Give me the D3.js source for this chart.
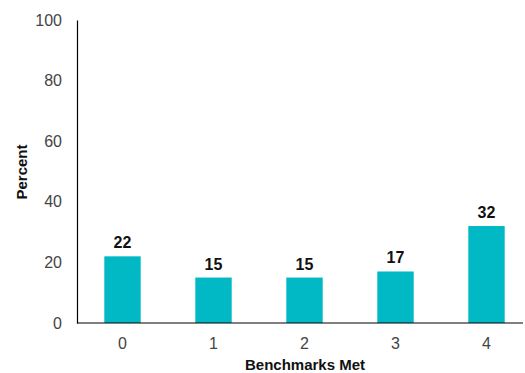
<!DOCTYPE html>
<html>
<head>
<meta charset="utf-8">
<script src="https://cdn.jsdelivr.net/npm/d3@7"></script>
<style>
  body { margin: 0; background: #fff; }
  text { font-family: "Liberation Sans", Arial, sans-serif; }
</style>
</head>
<body>
<div id="app"></div>
<script>
var categories = ["0", "1", "2", "3", "4"];
var percents = [22, 15, 15, 17, 32];
var yTicks = [0, 20, 40, 60, 80, 100];

var width = 525,
    height = 373;

var svg = d3.select("#app").append("svg")
    .attr("width", width)
    .attr("height", height);

var x = d3.scaleBand()
    .domain(categories)
    .range([77, 532])
    .padding(0.6)
    .paddingOuter(0.3);

var y = d3.scaleLinear()
    .domain([0, 100])
    .range([323, 20]);

// bars
svg.selectAll("rect.bar")
    .data(percents)
    .enter().append("rect")
    .attr("class", "bar")
    .attr("x", function(d, i) { return x(categories[i]); })
    .attr("y", function(d) { return y(d); })
    .attr("width", x.bandwidth())
    .attr("height", function(d) { return y(0) - y(d); })
    .style("fill", "#00B9C5");

// value labels
svg.selectAll("text.val")
    .data(percents)
    .enter().append("text")
    .attr("class", "val")
    .attr("x", function(d, i) { return x(categories[i]) + x.bandwidth() / 2; })
    .attr("y", function(d) { return y(d) - 8; })
    .attr("text-anchor", "middle")
    .style("font-size", "16px")
    .style("font-weight", "bold")
    .style("fill", "#111")
    .text(function(d) { return d; });

// y axis
var yAxis = svg.append("g")
    .attr("transform", "translate(77,0)")
    .call(d3.axisLeft(y).tickValues(yTicks).tickSize(0).tickPadding(15));
yAxis.select(".domain").attr("stroke", "#000").attr("stroke-width", 1.2);
yAxis.selectAll("text")
    .style("font-size", "16px")
    .style("fill", "#444")
    .style("font-family", "'Liberation Sans', Arial, sans-serif");

// x axis
var xAxis = svg.append("g")
    .attr("transform", "translate(0,323)")
    .call(d3.axisBottom(x).tickSize(0).tickPadding(15));
xAxis.select(".domain").attr("d", "M77,0H523").attr("stroke", "#000").attr("stroke-width", 1.2);
xAxis.selectAll("text")
    .style("font-size", "16px")
    .style("fill", "#444")
    .style("font-family", "'Liberation Sans', Arial, sans-serif");

// axis titles
svg.append("text")
    .attr("x", 305)
    .attr("y", 370)
    .attr("text-anchor", "middle")
    .style("font-size", "15px")
    .style("font-weight", "bold")
    .style("fill", "#111")
    .text("Benchmarks Met");

svg.append("text")
    .attr("transform", "translate(27,172) rotate(-90)")
    .attr("text-anchor", "middle")
    .style("font-size", "15px")
    .style("font-weight", "bold")
    .style("fill", "#111")
    .text("Percent");
</script>
</body>
</html>
